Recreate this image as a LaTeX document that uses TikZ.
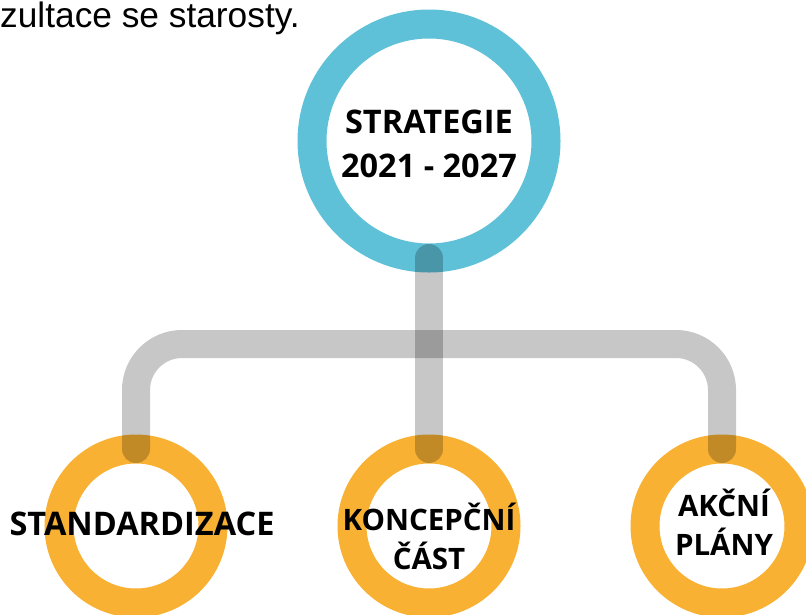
\documentclass[tikz,border=0pt]{standalone}
\usepackage{fontspec}
\setmainfont{Liberation Sans}
\newfontfamily\labelfont{Open Sans}
\definecolor{ringblue}{RGB}{94,193,216}
\definecolor{ringorange}{RGB}{248,177,51}
\tikzset{
  ring/.style={circle,draw,line width=29pt,fill=white,inner sep=0pt,outer sep=0pt,minimum size=#1},
  ringtext/.style={font=\labelfont\bfseries\fontsize{#1}{39}\selectfont,align=center,inner sep=0pt},
  ringtext/.default=29.5,
  link/.style={line width=28pt,line cap=round,draw=black,opacity=0.22}
}
\begin{document}
\begin{tikzpicture}[x=1pt,y=-1pt]
  \useasboundingbox (0,0) rectangle (806,614);
  \node[anchor=base west,inner sep=0pt,font=\fontsize{35.3}{42}\selectfont] (intro) at (0,27) {zultace se starosty.};
  \node[ring=234pt,draw=ringblue] (str) at (429,141) {};
  \node[ring=154pt,draw=ringorange] (std) at (136,526) {};
  \node[ring=154pt,draw=ringorange] (kon) at (429,526) {};
  \node[ring=154pt,draw=ringorange] (akc) at (722,526) {};
  \coordinate (bar) at (429,344);
  \draw[link] (str.south) -- (kon.north);
  \draw[link,rounded corners=46pt] (std.north) |- (bar) -| (akc.north);
  \node[ringtext,font=\labelfont\bfseries\fontsize{32.5}{44}\selectfont] (strtext) at (429,144) {STRATEGIE\\2021 - 2027};
  \node[ringtext=32.5] (stdtext) at (142,524) {STANDARDIZACE};
  \node[ringtext] (kontext) at (429,536) {KONCEPČNÍ\\ČÁST};
  \node[ringtext] (akctext) at (724,522) {AKČNÍ\\PLÁNY};
\end{tikzpicture}
\end{document}
